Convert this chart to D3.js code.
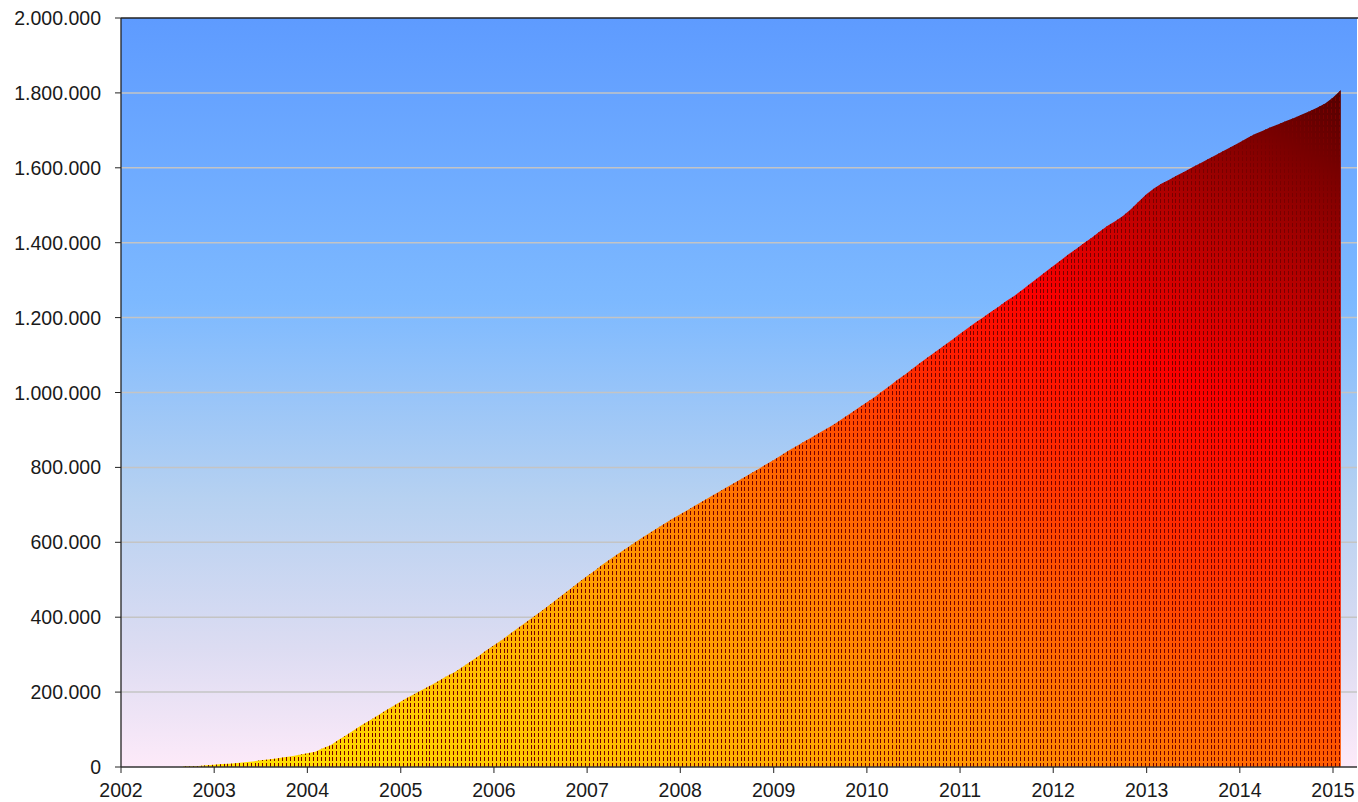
<!DOCTYPE html>
<html>
<head>
<meta charset="utf-8">
<script src="https://cdn.jsdelivr.net/npm/d3@7"></script>
<style>
  html, body { margin: 0; padding: 0; background: #fff; }
  svg { display: block; font-family: "Liberation Sans", Arial, sans-serif; }
</style>
</head>
<body>
<div id="chart"></div>
<script>
// cumulative totals, one value per month (end of month)
const v2002 = [2000, 3000, 5000, 6000]; // Sep - Dec
const v2003 = [8000, 9000, 11000, 13000, 15000, 18000, 20000, 23000, 26000, 29000, 33000, 37000];
const v2004 = [41000, 50000, 58000, 72000, 85000, 98000, 112000, 124000, 137000, 150000, 162000, 175000];
const v2005 = [187000, 197000, 208000, 219000, 231000, 243000, 254000, 268000, 282000, 296000, 311000, 325000];
const v2006 = [339000, 354000, 369000, 384000, 399000, 414000, 430000, 446000, 462000, 478000, 494000, 510000];
const v2007 = [525000, 540000, 555000, 569000, 583000, 597000, 611000, 624000, 637000, 650000, 663000, 675000];
const v2008 = [687000, 699000, 711000, 723000, 735000, 747000, 759000, 771000, 783000, 795000, 808000, 820000];
const v2009 = [833000, 845000, 857000, 869000, 881000, 893000, 905000, 918000, 932000, 946000, 960000, 974000];
const v2010 = [988000, 1003000, 1018000, 1034000, 1049000, 1065000, 1081000, 1096000, 1111000, 1126000, 1141000, 1157000];
const v2011 = [1172000, 1186000, 1200000, 1215000, 1229000, 1244000, 1258000, 1274000, 1290000, 1306000, 1322000, 1338000];
const v2012 = [1354000, 1369000, 1384000, 1399000, 1414000, 1430000, 1445000, 1458000, 1472000, 1490000, 1510000, 1530000];
const v2013 = [1546000, 1558000, 1569000, 1580000, 1591000, 1602000, 1613000, 1624000, 1635000, 1646000, 1657000, 1668000];
const v2014 = [1680000, 1690000, 1699000, 1708000, 1716000, 1725000, 1733000, 1742000, 1751000, 1761000, 1772000, 1788000];
const v2015 = [1808000]; // Jan

const yearRows = [
  [2002, 8, v2002], [2003, 0, v2003], [2004, 0, v2004], [2005, 0, v2005],
  [2006, 0, v2006], [2007, 0, v2007], [2008, 0, v2008], [2009, 0, v2009],
  [2010, 0, v2010], [2011, 0, v2011], [2012, 0, v2012], [2013, 0, v2013],
  [2014, 0, v2014], [2015, 0, v2015]
];
const yTicks = [0, 200000, 400000, 600000, 800000, 1000000, 1200000, 1400000, 1600000, 1800000, 2000000];
const xTickYears = [2002, 2003, 2004, 2005, 2006, 2007, 2008, 2009, 2010, 2011, 2012, 2013, 2014, 2015];

const data = [];
yearRows.forEach(([yr, m0, vals]) => {
  vals.forEach((v, i) => data.push({ date: new Date(yr, m0 + i, 1), value: v }));
});

const
  width = 1358,
  height = 802,
  margin = { top: 18, right: 1, bottom: 35, left: 121 },
  fontSize = 19.5,
  svg = d3.select("#chart").append("svg").attr("width", width).attr("height", height);

const x = d3.scaleTime()
  .domain([new Date(2002, 0, 1), new Date(2015, 3, 5)])
  .range([margin.left, width - margin.right]);

const y = d3.scaleLinear()
  .domain([0, 2000000])
  .range([height - margin.bottom, margin.top]);

const fmt = d3.formatLocale({ decimal: ",", thousands: ".", grouping: [3], currency: ["", ""] }).format(",");
const nextMonth = d => new Date(d.getFullYear(), d.getMonth() + 1, 1);

const defs = svg.append("defs");

const bg = defs.append("linearGradient")
  .attr("id", "bgGrad").attr("x1", 0).attr("y1", 0).attr("x2", 0).attr("y2", 1);
[[0, "#5e9bff"], [0.38, "#7db9ff"], [0.64, "#b6d1f1"], [0.84, "#dcdcf2"], [1, "#fdeaf9"]]
  .forEach(([o, c]) => bg.append("stop").attr("offset", o).attr("stop-color", c));

const barGrad = defs.append("linearGradient")
  .attr("id", "barGrad").attr("x1", 0).attr("y1", 1).attr("x2", 1).attr("y2", 0);
[[0, "#ffe600"], [0.2, "#ffbc00"], [0.35, "#ff9400"], [0.5, "#ff5c00"], [0.64, "#ff1c00"],
 [0.72, "#fa0000"], [0.86, "#a80000"], [1, "#520000"]]
  .forEach(([o, c]) => barGrad.append("stop").attr("offset", o).attr("stop-color", c));

// plot background
svg.append("rect")
  .attr("x", margin.left).attr("y", margin.top)
  .attr("width", width - margin.right - margin.left)
  .attr("height", y(0) - margin.top)
  .attr("fill", "url(#bgGrad)");

// grid lines
svg.append("g")
  .selectAll("line")
  .data(yTicks.slice(1, -1))
  .enter().append("line")
  .attr("x1", margin.left).attr("x2", width - margin.right)
  .attr("y1", d => y(d)).attr("y2", d => y(d))
  .attr("stroke", "#c4c4c4").attr("stroke-width", 1.5);

// outline of the bars: each month's total reached at the end of the month
const area = d3.area()
  .x(d => d.px)
  .y0(y(0))
  .y1(d => y(d.value));
const outline = [{ px: x(data[0].date), value: data[0].value }]
  .concat(data.map(d => ({ px: x(nextMonth(d.date)), value: d.value })));

defs.append("clipPath").attr("id", "barClip")
  .append("path").attr("d", area(outline));

const x0 = x(data[0].date), x1 = x(nextMonth(data[data.length - 1].date));
const yTop = y(d3.max(data, d => d.value));
const bars = svg.append("g").attr("clip-path", "url(#barClip)");
bars.append("rect")
  .attr("x", x0).attr("y", yTop)
  .attr("width", x1 - x0).attr("height", y(0) - yTop)
  .attr("fill", "url(#barGrad)");

// dashed bar edges, pixel aligned
const edges = bars.append("g")
  .attr("stroke", "#780000")
  .attr("stroke-width", 1)
  .attr("stroke-dasharray", "4 2");
data.forEach(d => {
  const bx = x(d.date), bw = x(nextMonth(d.date)) - bx;
  [bx + bw * 0.25, bx + bw * 0.75].forEach(lx => {
    const px = Math.round(lx) + 0.5;
    edges.append("line")
      .attr("x1", px).attr("x2", px)
      .attr("y1", y(0)).attr("y2", yTop);
  });
});

// axes
const yAxis = svg.append("g").attr("transform", `translate(${margin.left},0)`);
yAxis.append("line")
  .attr("x1", 0).attr("x2", 0).attr("y1", margin.top).attr("y2", y(0))
  .attr("stroke", "#222").attr("stroke-width", 1.3);
yAxis.selectAll(".tk").data(yTicks).enter().append("line")
  .attr("x1", -6).attr("x2", 0).attr("y1", d => y(d)).attr("y2", d => y(d))
  .attr("stroke", "#222");
yAxis.selectAll("text").data(yTicks).enter().append("text")
  .attr("x", -20).attr("y", d => y(d)).attr("dy", "0.36em")
  .attr("text-anchor", "end").attr("font-size", fontSize).attr("fill", "#1a1a1a")
  .text(d => fmt(d));

svg.append("line")
  .attr("x1", margin.left).attr("x2", width)
  .attr("y1", margin.top).attr("y2", margin.top)
  .attr("stroke", "#222").attr("stroke-width", 1.5);

const xAxis = svg.append("g").attr("transform", `translate(0,${y(0)})`);
xAxis.append("line")
  .attr("x1", margin.left).attr("x2", width - margin.right)
  .attr("stroke", "#333").attr("stroke-width", 1.3);
xAxis.selectAll(".tk").data(xTickYears).enter().append("line")
  .attr("x1", d => x(new Date(d, 0, 1))).attr("x2", d => x(new Date(d, 0, 1)))
  .attr("y1", 0).attr("y2", 6).attr("stroke", "#222");
xAxis.selectAll("text").data(xTickYears).enter().append("text")
  .attr("x", d => x(new Date(d, 0, 1))).attr("y", 30)
  .attr("text-anchor", "middle").attr("font-size", fontSize).attr("fill", "#1a1a1a")
  .text(d => d);
</script>
</body>
</html>
